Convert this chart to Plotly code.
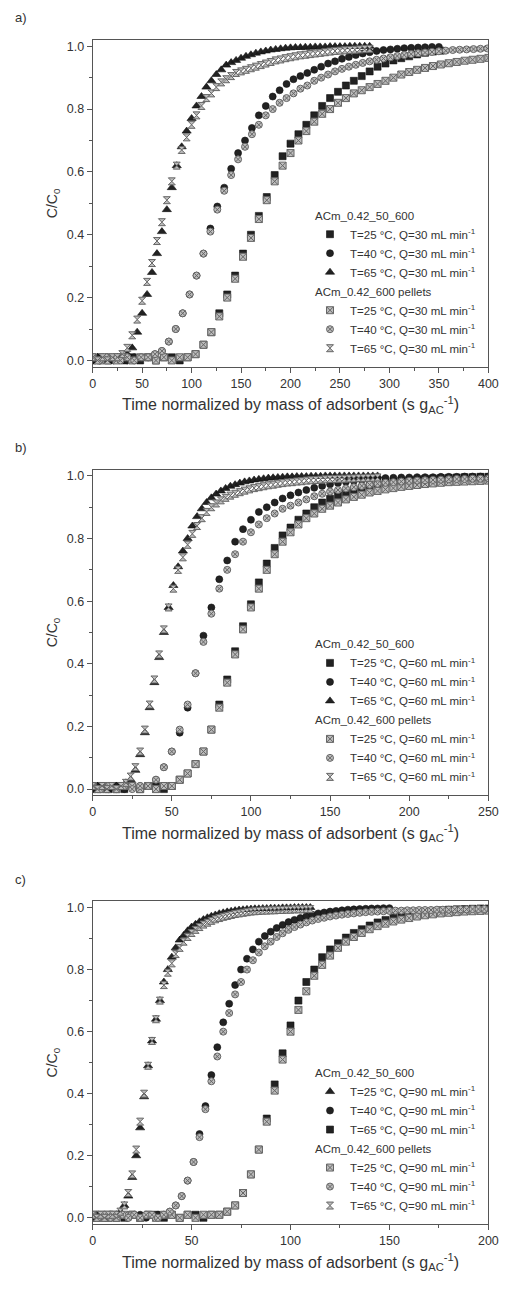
import numpy as np
import plotly.graph_objects as go

# ---------------- panel a: Q = 30 mL/min (x in s g_AC^-1) ----------------
a_acm25_step = 8
a_acm25_y = [0.00, 0.01, 0.00, 0.01, 0.00, 0.01, 0.00, 0.01, 0.00, 0.01, 0.01, 0.00, 0.01,
             0.02, 0.05, 0.09, 0.15, 0.21, 0.27, 0.34, 0.40, 0.46, 0.52, 0.59, 0.65, 0.69,
             0.72, 0.75, 0.78, 0.81, 0.835, 0.855, 0.875, 0.89, 0.905, 0.92, 0.935, 0.945,
             0.955, 0.962, 0.968, 0.974, 0.979, 0.983, 0.986]
a_acm40_step = 7
a_acm40_y = [0.00, 0.00, 0.01, 0.00, 0.01, 0.00, 0.01, 0.01, 0.01, 0.02, 0.03, 0.06, 0.10,
             0.15, 0.21, 0.27, 0.34, 0.42, 0.49, 0.55, 0.61, 0.66, 0.70, 0.74, 0.78, 0.81,
             0.84, 0.86, 0.88, 0.895, 0.905, 0.915, 0.925, 0.935, 0.945, 0.952, 0.96, 0.966,
             0.972, 0.977, 0.981, 0.985, 0.988, 0.99, 0.992, 0.994, 0.995, 0.996, 0.997,
             0.998, 0.998]
a_acm65_step = 5
a_acm65_y = [0.00, 0.01, 0.00, 0.01, 0.00, 0.01, 0.01, 0.02, 0.04, 0.09, 0.15, 0.21, 0.28,
             0.34, 0.41, 0.48, 0.55, 0.62, 0.68, 0.73, 0.77, 0.81, 0.84, 0.87, 0.89, 0.91,
             0.925, 0.94, 0.948, 0.955, 0.962, 0.968, 0.973, 0.978, 0.982, 0.985, 0.988,
             0.99, 0.992, 0.994, 0.995, 0.996, 0.996, 0.997, 0.997, 0.998, 0.998, 0.998,
             0.999, 0.999, 0.999, 0.999, 1.0, 1.0, 1.0, 1.0, 1.0]
a_pel25_step = 8
a_pel25_y = [0.01, 0.00, 0.01, 0.00, 0.01, 0.00, 0.01, 0.01, 0.00, 0.01, 0.00, 0.01, 0.01,
             0.02, 0.05, 0.09, 0.14, 0.20, 0.26, 0.33, 0.39, 0.45, 0.51, 0.57, 0.62, 0.66,
             0.70, 0.73, 0.76, 0.785, 0.80, 0.82, 0.835, 0.85, 0.86, 0.87, 0.88, 0.89, 0.90,
             0.91, 0.918, 0.925, 0.931, 0.937, 0.942, 0.946, 0.95, 0.954, 0.957, 0.96, 0.963]
a_pel40_step = 7
a_pel40_y = [0.01, 0.00, 0.01, 0.01, 0.00, 0.01, 0.00, 0.01, 0.01, 0.02, 0.03, 0.06, 0.10,
             0.15, 0.21, 0.27, 0.34, 0.41, 0.48, 0.54, 0.59, 0.64, 0.68, 0.72, 0.75, 0.78,
             0.80, 0.82, 0.835, 0.85, 0.865, 0.875, 0.89, 0.90, 0.91, 0.92, 0.928, 0.935,
             0.941, 0.947, 0.952, 0.957, 0.961, 0.965, 0.969, 0.972, 0.975, 0.978, 0.98,
             0.982, 0.984, 0.986, 0.988, 0.989, 0.99, 0.991, 0.992, 0.993]
a_pel65_step = 5
a_pel65_y = [0.01, 0.00, 0.01, 0.00, 0.01, 0.01, 0.02, 0.04, 0.08, 0.13, 0.19, 0.25, 0.31,
             0.38, 0.44, 0.51, 0.57, 0.62, 0.67, 0.71, 0.75, 0.78, 0.81, 0.835, 0.85, 0.87,
             0.885, 0.895, 0.905, 0.915, 0.92, 0.925, 0.93, 0.935, 0.94, 0.945, 0.95, 0.955,
             0.958, 0.962, 0.965, 0.968, 0.971, 0.973, 0.975, 0.977, 0.979, 0.981, 0.983,
             0.985, 0.986, 0.987, 0.988, 0.989, 0.99, 0.991, 0.992]

# ---------------- panel b: Q = 60 mL/min ----------------
b_acm25_step = 5
b_acm25_y = [0.00, 0.01, 0.00, 0.01, 0.00, 0.01, 0.00, 0.01, 0.01, 0.00, 0.01,
             0.03, 0.05, 0.08, 0.12, 0.19, 0.27, 0.35, 0.44, 0.52, 0.59, 0.66, 0.72, 0.77,
             0.81, 0.835, 0.86, 0.88, 0.90, 0.915, 0.927, 0.938, 0.947, 0.955, 0.962, 0.968,
             0.973, 0.977, 0.981, 0.984, 0.987, 0.989, 0.991, 0.992, 0.993, 0.994, 0.995,
             0.996, 0.996, 0.997, 0.997]
b_acm40_step = 5
b_acm40_y = [0.00, 0.01, 0.00, 0.01, 0.00, 0.01, 0.01, 0.01, 0.03, 0.07, 0.12, 0.18, 0.26,
             0.37, 0.49, 0.58, 0.67, 0.73, 0.79, 0.83, 0.86, 0.885, 0.90, 0.915, 0.928,
             0.938, 0.947, 0.955, 0.962, 0.968, 0.973, 0.977, 0.981, 0.984, 0.987, 0.989,
             0.991, 0.993, 0.994, 0.995, 0.995, 0.996, 0.996, 0.996, 0.997, 0.997, 0.997,
             0.998, 0.998, 0.998, 0.998]
b_acm65_step = 3
b_acm65_y = [0.00, 0.01, 0.00, 0.01, 0.00, 0.01, 0.01, 0.02, 0.03, 0.06, 0.11, 0.18, 0.26,
             0.34, 0.42, 0.50, 0.58, 0.65, 0.71, 0.76, 0.80, 0.84, 0.87, 0.895, 0.915, 0.93,
             0.942, 0.952, 0.96, 0.967, 0.972, 0.977, 0.981, 0.984, 0.987, 0.989, 0.991,
             0.993, 0.994, 0.995, 0.996, 0.997, 0.997, 0.998, 0.998, 0.998, 0.999, 0.999,
             0.999, 1.0, 1.0, 1.0, 1.0, 1.0, 1.0, 1.0, 1.0, 1.0, 1.0, 1.0, 1.0]
b_pel25_step = 5
b_pel25_y = [0.01, 0.00, 0.01, 0.00, 0.01, 0.01, 0.00, 0.01, 0.00, 0.01, 0.01,
             0.03, 0.05, 0.08, 0.12, 0.19, 0.26, 0.34, 0.43, 0.51, 0.58, 0.64, 0.70, 0.75,
             0.79, 0.82, 0.845, 0.865, 0.88, 0.895, 0.905, 0.915, 0.925, 0.933, 0.94, 0.947,
             0.952, 0.957, 0.961, 0.965, 0.968, 0.971, 0.974, 0.976, 0.978, 0.98, 0.981,
             0.982, 0.983, 0.984, 0.985]
b_pel40_step = 5
b_pel40_y = [0.01, 0.00, 0.01, 0.00, 0.01, 0.00, 0.01, 0.01, 0.03, 0.07, 0.12, 0.19, 0.27,
             0.37, 0.47, 0.56, 0.64, 0.70, 0.75, 0.79, 0.82, 0.845, 0.865, 0.88, 0.895,
             0.905, 0.915, 0.925, 0.935, 0.943, 0.95, 0.955, 0.96, 0.964, 0.968, 0.972,
             0.975, 0.978, 0.98, 0.982, 0.984, 0.985, 0.986, 0.987, 0.988, 0.989, 0.99,
             0.99, 0.991, 0.991, 0.992]
b_pel65_step = 3
b_pel65_y = [0.01, 0.00, 0.01, 0.00, 0.01, 0.00, 0.01, 0.02, 0.04, 0.07, 0.12, 0.19, 0.27,
             0.35, 0.43, 0.51, 0.58, 0.64, 0.70, 0.74, 0.78, 0.815, 0.84, 0.865, 0.885, 0.90,
             0.912, 0.922, 0.93, 0.937, 0.943, 0.948, 0.953, 0.957, 0.961, 0.964, 0.967,
             0.97, 0.972, 0.975, 0.977, 0.979, 0.98, 0.982, 0.983, 0.985, 0.986, 0.987,
             0.988, 0.989, 0.99, 0.99, 0.991, 0.991, 0.992, 0.992, 0.993, 0.993, 0.994,
             0.994, 0.995]

# ---------------- panel c: Q = 90 mL/min ----------------
c_acm25_step = 2
c_acm25_y = [0.00, 0.01, 0.00, 0.01, 0.00, 0.01, 0.01, 0.02, 0.04, 0.07, 0.13, 0.20, 0.29,
             0.39, 0.49, 0.57, 0.64, 0.70, 0.76, 0.80, 0.84, 0.87, 0.895, 0.91, 0.925,
             0.937, 0.946, 0.954, 0.961, 0.967, 0.972, 0.976, 0.98, 0.983, 0.986, 0.988,
             0.99, 0.992, 0.993, 0.994, 0.995, 0.996, 0.996, 0.997, 0.997, 0.998, 0.998,
             0.998, 0.999, 0.999, 0.999, 1.0, 1.0, 1.0, 1.0, 1.0]
c_acm40_step = 3
c_acm40_y = [0.00, 0.01, 0.00, 0.01, 0.00, 0.01, 0.00, 0.01, 0.01, 0.00, 0.01, 0.01, 0.01,
             0.02, 0.04, 0.07, 0.12, 0.18, 0.27, 0.36, 0.46, 0.55, 0.63, 0.69, 0.75, 0.80,
             0.835, 0.865, 0.89, 0.908, 0.922, 0.934, 0.944, 0.953, 0.96, 0.966, 0.972,
             0.977, 0.981, 0.984, 0.987, 0.989, 0.991, 0.993, 0.994, 0.995, 0.996, 0.997,
             0.997, 0.998, 0.998]
c_acm65_step = 4
c_acm65_y = [0.00, 0.01, 0.00, 0.01, 0.00, 0.01, 0.00, 0.01, 0.01, 0.00, 0.01, 0.00, 0.01,
             0.01, 0.00, 0.01, 0.01, 0.02, 0.04, 0.08, 0.14, 0.22, 0.32, 0.43, 0.53, 0.62,
             0.70, 0.76, 0.80, 0.84, 0.865, 0.885, 0.903, 0.918, 0.93, 0.942, 0.952, 0.96,
             0.967, 0.973, 0.978, 0.982, 0.986, 0.989, 0.991, 0.993, 0.994, 0.995, 0.996,
             0.997, 0.997]
c_pel25_step = 4
c_pel25_y = [0.01, 0.00, 0.01, 0.00, 0.01, 0.01, 0.00, 0.01, 0.00, 0.01, 0.01, 0.00, 0.01,
             0.00, 0.01, 0.01, 0.01, 0.02, 0.04, 0.08, 0.14, 0.22, 0.31, 0.41, 0.51, 0.60,
             0.67, 0.73, 0.78, 0.815, 0.845, 0.87, 0.89, 0.905, 0.918, 0.93, 0.94, 0.948,
             0.955, 0.961, 0.966, 0.971, 0.975, 0.978, 0.981, 0.983, 0.985, 0.987, 0.988,
             0.989, 0.99]
c_pel40_step = 3
c_pel40_y = [0.01, 0.00, 0.01, 0.00, 0.01, 0.01, 0.00, 0.01, 0.00, 0.01, 0.01, 0.00, 0.01,
             0.02, 0.04, 0.07, 0.12, 0.18, 0.26, 0.35, 0.44, 0.52, 0.60, 0.66, 0.72, 0.76,
             0.80, 0.83, 0.855, 0.875, 0.89, 0.905, 0.917, 0.928, 0.937, 0.945, 0.952,
             0.958, 0.963, 0.967, 0.971, 0.974, 0.977, 0.979, 0.981, 0.983, 0.985, 0.986,
             0.987, 0.988, 0.989, 0.99, 0.99, 0.991, 0.991, 0.992, 0.992, 0.992, 0.993,
             0.993, 0.993, 0.994, 0.994, 0.994, 0.995, 0.995, 0.995]
c_pel65_step = 2
c_pel65_y = [0.01, 0.00, 0.01, 0.00, 0.01, 0.01, 0.00, 0.02, 0.04, 0.08, 0.14, 0.22, 0.31,
             0.40, 0.49, 0.57, 0.64, 0.70, 0.75, 0.79, 0.82, 0.85, 0.87, 0.89, 0.905,
             0.918, 0.928, 0.937, 0.945, 0.951, 0.957, 0.962, 0.966, 0.97, 0.973, 0.976,
             0.979, 0.981, 0.983, 0.985, 0.987, 0.988, 0.989, 0.99, 0.99, 0.991, 0.991,
             0.992, 0.992, 0.993, 0.993, 0.994, 0.994, 0.994, 0.995, 0.995]

# legend texts
group_acm = "ACm_0.42_50_600"
group_pel = "ACm_0.42_600 pellets"
temps = ["25", "40", "65"]
flows = ["30", "60", "90"]
x_title = "Time normalized by mass of adsorbent (s g<sub>AC</sub><sup>-1</sup>)"
x_ranges = [400, 250, 200]
panel_tags = ["a)", "b)", "c)"]

# ---------------- layout geometry (pixels) ----------------
W, H = 512, 1290
left_px, right_px = 92, 498
frames = [(40, 367), (470, 796), (902, 1225)]   # (top, bottom) of each plot box

DARK = "#222222"
PEL_FILL = "#bdbdbd"
PEL_LINE = "#666666"
TXT = "#333333"
AX = "#555555"
FONT = "Liberation Sans, Arial, sans-serif"

acm_symbols = {"a": ["square", "circle", "triangle-up"],
               "b": ["square", "circle", "triangle-up"],
               "c": ["triangle-up", "circle", "square"]}
pel_symbols = ["square-x", "circle-x", "hourglass"]

panels = [
    ("a", [a_acm25_y, a_acm40_y, a_acm65_y], [a_acm25_step, a_acm40_step, a_acm65_step],
     [a_pel25_y, a_pel40_y, a_pel65_y], [a_pel25_step, a_pel40_step, a_pel65_step]),
    ("b", [b_acm25_y, b_acm40_y, b_acm65_y], [b_acm25_step, b_acm40_step, b_acm65_step],
     [b_pel25_y, b_pel40_y, b_pel65_y], [b_pel25_step, b_pel40_step, b_pel65_step]),
    ("c", [c_acm25_y, c_acm40_y, c_acm65_y], [c_acm25_step, c_acm40_step, c_acm65_step],
     [c_pel25_y, c_pel40_y, c_pel65_y], [c_pel25_step, c_pel40_step, c_pel65_step]),
]

fig = go.Figure()

for p, (tag, acm_ys, acm_steps, pel_ys, pel_steps) in enumerate(panels):
    suffix = "" if p == 0 else str(p + 1)
    xa, ya = "x" + suffix, "y" + suffix
    leg = "legend" + suffix
    q = flows[p]
    acm_syms = acm_symbols[tag]
    for i, (ys, st) in enumerate(zip(acm_ys, acm_steps)):
        xs = st * np.arange(len(ys))
        fig.add_trace(go.Scatter(
            x=xs, y=ys, mode="markers", xaxis=xa, yaxis=ya, legend=leg,
            name=f"T={temps[i]} °C, Q={q} mL min<sup>-1</sup>",
            legendgroup=f"{tag}_acm", legendgrouptitle=dict(text=group_acm),
            marker=dict(symbol=acm_syms[i], size=8 if acm_syms[i] == "triangle-up" else 7,
                        color=DARK, line=dict(width=0.6, color="#111111")),
        ))
    for i, (ys, st) in enumerate(zip(pel_ys, pel_steps)):
        xs = st * np.arange(len(ys))
        fig.add_trace(go.Scatter(
            x=xs, y=ys, mode="markers", xaxis=xa, yaxis=ya, legend=leg,
            name=f"T={temps[i]} °C, Q={q} mL min<sup>-1</sup>",
            legendgroup=f"{tag}_pel", legendgrouptitle=dict(text=group_pel),
            marker=dict(symbol=pel_symbols[i], size=7,
                        color=PEL_FILL, line=dict(width=1, color=PEL_LINE)),
        ))

layout = dict(
    width=W, height=H, margin=dict(l=0, r=0, t=0, b=0),
    paper_bgcolor="white", plot_bgcolor="white",
    font=dict(family=FONT, color=TXT, size=12),
    showlegend=True, annotations=[],
)

for p in range(3):
    suffix = "" if p == 0 else str(p + 1)
    top, bot = frames[p]
    ydom = [1 - bot / H, 1 - top / H]
    xdom = [left_px / W, right_px / W]
    axis_common = dict(showline=True, linecolor=AX, linewidth=1, mirror=True,
                       ticks="outside", ticklen=5, tickwidth=1, tickcolor=AX,
                       showgrid=False, zeroline=False,
                       tickfont=dict(size=12.5, color=TXT, family=FONT))
    layout["xaxis" + suffix] = dict(
        axis_common, domain=xdom, anchor="y" + suffix, range=[0, x_ranges[p]],
        tick0=0, dtick=50,
        minor=dict(dtick=25, ticks="outside", ticklen=3, tickcolor=AX, showgrid=False),
        title=dict(text=x_title, font=dict(size=16, color=TXT, family=FONT), standoff=9),
    )
    layout["yaxis" + suffix] = dict(
        axis_common, domain=ydom, anchor="x" + suffix, range=[-0.02, 1.02],
        tick0=0, dtick=0.2, tickformat=".1f",
        minor=dict(dtick=0.1, ticks="outside", ticklen=3, tickcolor=AX, showgrid=False),
        title=dict(text="C/C<sub>0</sub>", font=dict(size=14, color=TXT, family=FONT), standoff=5),
    )
    layout["legend" + suffix] = dict(
        x=315 / W, xanchor="left", y=1 - (bot - 4) / H, yanchor="bottom",
        bgcolor="rgba(0,0,0,0)", borderwidth=0, tracegroupgap=0, itemwidth=30,
        traceorder="grouped", font=dict(size=11.5, color=TXT, family=FONT),
        grouptitlefont=dict(size=11.5, color=TXT, family=FONT),
    )
    layout["annotations"].append(dict(
        text=panel_tags[p], xref="paper", yref="paper", x=10 / W, y=1 - (top - 22) / H,
        xanchor="left", yanchor="middle", showarrow=False,
        font=dict(size=13, color=TXT, family=FONT),
    ))

fig.update_layout(**layout)
fig.write_html("out.html")
